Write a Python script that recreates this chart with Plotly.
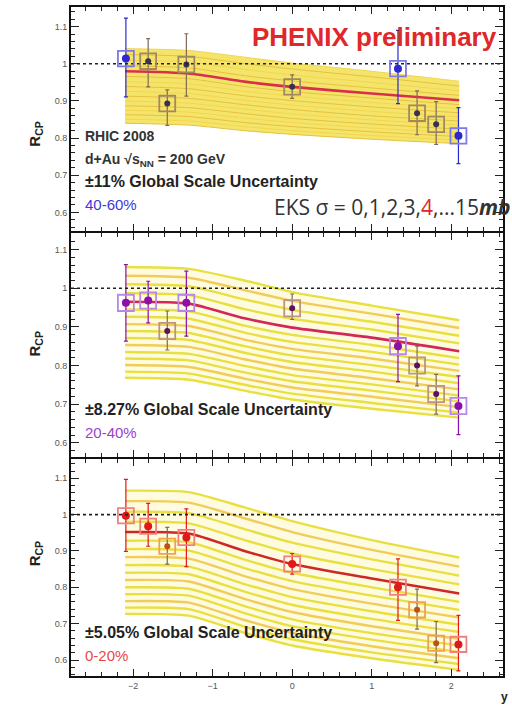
import plotly.graph_objects as go

# ---------------- data ----------------
rapidity = [-2.09, -1.81, -1.57, -1.33, 0.0, 1.33, 1.57, 1.81, 2.09]

# 40-60 % (top panel)
rcp_4060 = [1.014, 1.007, 0.893, 0.998, 0.938, 0.987, 0.867, 0.837, 0.806]
rcp_4060_hi = [1.123, 1.068, 0.930, 1.081, 0.970, 1.090, 0.927, 0.898, 0.882]
rcp_4060_lo = [0.911, 0.938, 0.834, 0.913, 0.907, 0.893, 0.809, 0.783, 0.731]

# 20-40 % (middle panel)
rcp_2040 = [0.962, 0.968, 0.889, 0.962, 0.948, 0.850, 0.800, 0.726, 0.695]
rcp_2040_hi = [1.061, 1.018, 0.941, 1.044, 0.985, 0.932, 0.850, 0.777, 0.773]
rcp_2040_lo = [0.863, 0.910, 0.840, 0.876, 0.919, 0.758, 0.747, 0.674, 0.621]

# 0-20 % (bottom panel)
rcp_0020 = [0.997, 0.968, 0.913, 0.937, 0.864, 0.800, 0.738, 0.646, 0.643]
rcp_0020_hi = [1.097, 1.031, 0.965, 1.016, 0.893, 0.878, 0.795, 0.706, 0.723]
rcp_0020_lo = [0.899, 0.913, 0.864, 0.857, 0.836, 0.709, 0.685, 0.593, 0.570]

# EKS curves, sigma = 0..15 mb, values at each rapidity knot (one list per knot)
eks_y = [-2.1, -1.3, -0.6, 0.0, 1.0, 2.1]
eks_sigma = list(range(16))
eks_red_sigma = 4

eks_4060 = [
    [1.041, 1.025, 1.010, 0.995, 0.980, 0.966, 0.952, 0.939, 0.926, 0.913, 0.900, 0.887, 0.875, 0.863, 0.851, 0.840],
    [1.036, 1.020, 1.005, 0.989, 0.974, 0.960, 0.946, 0.933, 0.920, 0.907, 0.894, 0.882, 0.870, 0.858, 0.846, 0.835],
    [1.018, 1.001, 0.985, 0.968, 0.952, 0.939, 0.926, 0.914, 0.902, 0.890, 0.878, 0.866, 0.854, 0.842, 0.831, 0.820],
    [1.002, 0.986, 0.970, 0.954, 0.938, 0.925, 0.913, 0.901, 0.889, 0.877, 0.865, 0.853, 0.842, 0.831, 0.820, 0.810],
    [0.980, 0.965, 0.950, 0.935, 0.920, 0.908, 0.896, 0.884, 0.872, 0.860, 0.849, 0.838, 0.827, 0.817, 0.807, 0.797],
    [0.953, 0.940, 0.927, 0.915, 0.902, 0.890, 0.879, 0.868, 0.857, 0.846, 0.835, 0.824, 0.814, 0.804, 0.794, 0.785],
]
eks_2040 = [
    [1.055, 1.032, 1.010, 0.987, 0.965, 0.945, 0.926, 0.907, 0.889, 0.871, 0.853, 0.835, 0.818, 0.801, 0.784, 0.768],
    [1.050, 1.027, 1.005, 0.982, 0.960, 0.940, 0.921, 0.902, 0.884, 0.866, 0.848, 0.830, 0.813, 0.796, 0.779, 0.763],
    [1.020, 0.995, 0.971, 0.946, 0.922, 0.903, 0.885, 0.867, 0.850, 0.833, 0.816, 0.799, 0.782, 0.766, 0.750, 0.735],
    [0.990, 0.967, 0.944, 0.921, 0.898, 0.879, 0.861, 0.843, 0.826, 0.809, 0.792, 0.775, 0.759, 0.743, 0.727, 0.712],
    [0.955, 0.934, 0.913, 0.893, 0.872, 0.853, 0.835, 0.818, 0.801, 0.784, 0.767, 0.751, 0.735, 0.719, 0.703, 0.688],
    [0.917, 0.897, 0.877, 0.857, 0.837, 0.819, 0.802, 0.786, 0.770, 0.754, 0.738, 0.722, 0.707, 0.692, 0.678, 0.665],
]
eks_0020 = [
    [1.066, 1.037, 1.008, 0.980, 0.952, 0.928, 0.905, 0.883, 0.861, 0.840, 0.820, 0.800, 0.781, 0.762, 0.744, 0.727],
    [1.062, 1.033, 1.004, 0.976, 0.948, 0.924, 0.901, 0.879, 0.857, 0.836, 0.816, 0.796, 0.777, 0.758, 0.740, 0.722],
    [1.020, 0.990, 0.960, 0.930, 0.900, 0.876, 0.853, 0.831, 0.809, 0.788, 0.768, 0.748, 0.729, 0.710, 0.692, 0.675],
    [0.982, 0.952, 0.923, 0.893, 0.864, 0.840, 0.817, 0.795, 0.773, 0.752, 0.732, 0.712, 0.693, 0.675, 0.657, 0.640],
    [0.930, 0.903, 0.877, 0.850, 0.824, 0.800, 0.777, 0.755, 0.734, 0.713, 0.693, 0.674, 0.656, 0.638, 0.621, 0.605],
    [0.882, 0.857, 0.832, 0.808, 0.783, 0.760, 0.738, 0.717, 0.697, 0.677, 0.658, 0.640, 0.622, 0.605, 0.589, 0.573],
]

y_tick_vals = [0.6, 0.7, 0.8, 0.9, 1.0, 1.1]
x_tick_vals = [-2, -1, 0, 1, 2]

# ---------------- style ----------------
panels = [
    dict(vals=rcp_4060, hi=rcp_4060_hi, lo=rcp_4060_lo, eks=eks_4060, primary=[0, 5, 8],
         color="#2a2ad0", box="#7a7ae8", sec_color="#3a3050", sec_box="#a08860",
         red="#d8304a", label="40-60%", label_color="#3a3ad8",
         glob="±11% Global Scale Uncertainty", dense=True,
         domain=[0.6647, 1.0], yrange=[0.549, 1.153], rcp_y=118),
    dict(vals=rcp_2040, hi=rcp_2040_hi, lo=rcp_2040_lo, eks=eks_2040, primary=[0, 1, 3, 5, 8],
         color="#8a10a8", box="#b888e8", sec_color="#601060", sec_box="#c09080",
         red="#d02858", label="20-40%", label_color="#9a40d0",
         glob="±8.27% Global Scale Uncertainty", dense=False,
         domain=[0.3279, 0.6617], yrange=[0.564, 1.142], rcp_y=343),
    dict(vals=rcp_0020, hi=rcp_0020_hi, lo=rcp_0020_lo, eks=eks_0020, primary=[0, 1, 3, 4, 5, 8],
         color="#e01818", box="#f08080", sec_color="#c05010", sec_box="#f0a050",
         red="#cc2828", label="0-20%", label_color="#e84848",
         glob="±5.05% Global Scale Uncertainty", dense=False,
         domain=[0.0, 0.3249], yrange=[0.556, 1.154], rcp_y=568),
]

X_RANGE = [-2.78, 2.65]
BOX_HW = 0.1
BOX_HH = 0.021
W, H = 512, 705
L_M, R_M, T_M, B_M = 71, 9, 5, 29
TEXT_X = 0.028

fig = go.Figure()
shapes = []
annotations = []


def ypix(p):
    return 1 - (p - T_M) / (H - T_M - B_M)


def xpix(p):
    return (p - L_M) / (W - L_M - R_M)


for i, p in enumerate(panels):
    ax = "" if i == 0 else str(i + 1)
    xr, yr = "x" + ax, "y" + ax
    cols = p["eks"]
    curves = [[col[s] for col in cols] for s in eks_sigma]
    spl = dict(shape="spline", smoothing=0.6)

    # band fill between sigma=15 and sigma=0
    fill_col = "#f5e46a" if p["dense"] else "#fffbe0"
    fig.add_trace(go.Scatter(x=eks_y, y=curves[-1], mode="lines", line=dict(width=0, **spl),
                             xaxis=xr, yaxis=yr, hoverinfo="skip", showlegend=False))
    fig.add_trace(go.Scatter(x=eks_y, y=curves[0], mode="lines", line=dict(width=0, **spl),
                             fill="tonexty", fillcolor=fill_col,
                             xaxis=xr, yaxis=yr, hoverinfo="skip", showlegend=False))
    for s in eks_sigma:
        if s == eks_red_sigma:
            continue
        if p["dense"]:
            col, w = ("#e6c040" if s % 2 else "#f0d650"), 1.0
        else:
            col, w = ("#f0cc5a" if s % 3 == 1 else "#e8e040"), 2.4
        fig.add_trace(go.Scatter(x=eks_y, y=curves[s], mode="lines",
                                 line=dict(color=col, width=w, **spl),
                                 xaxis=xr, yaxis=yr, hoverinfo="skip", showlegend=False))
    fig.add_trace(go.Scatter(x=eks_y, y=curves[eks_red_sigma], mode="lines",
                             line=dict(color=p["red"], width=2.6, **spl),
                             xaxis=xr, yaxis=yr, showlegend=False))

    # dotted unity line
    shapes.append(dict(type="line", xref=xr + " domain", yref=yr, x0=0, x1=1, y0=1, y1=1,
                       line=dict(color="#222", width=1.6, dash="dot"), layer="above"))

    # systematic boxes + points
    for grp in ("sec", "pri"):
        idx = [k for k in range(len(rapidity)) if (k in p["primary"]) == (grp == "pri")]
        xs = [rapidity[k] for k in idx]
        vs = [p["vals"][k] for k in idx]
        up = [p["hi"][k] - p["vals"][k] for k in idx]
        dn = [p["vals"][k] - p["lo"][k] for k in idx]
        mcol = p["color"] if grp == "pri" else p["sec_color"]
        bcol = p["box"] if grp == "pri" else p["sec_box"]
        ecol = p["color"] if grp == "pri" else "#806858"
        for xv, v in zip(xs, vs):
            shapes.append(dict(type="rect", xref=xr, yref=yr,
                               x0=xv - BOX_HW, x1=xv + BOX_HW, y0=v - BOX_HH, y1=v + BOX_HH,
                               line=dict(color=bcol, width=1.8), layer="above"))
        fig.add_trace(go.Scatter(
            x=xs, y=vs, mode="markers",
            marker=dict(color=mcol, size=8 if grp == "pri" else 6, symbol="circle"),
            error_y=dict(type="data", array=up, arrayminus=dn, color=ecol, thickness=1.2, width=2),
            xaxis=xr, yaxis=yr, showlegend=False))

    # axes
    axis_common = dict(showline=True, linewidth=2, linecolor="#111", mirror="allticks",
                       ticks="inside", tickcolor="#222", showgrid=False, zeroline=False,
                       tickfont=dict(family="Liberation Sans", size=9, color="#555"))
    fig.layout["xaxis" + ax] = dict(
        axis_common, domain=[0, 1], range=X_RANGE, anchor=yr,
        tickvals=x_tick_vals, ticklen=7,
        minor=dict(dtick=0.2, tick0=0, ticklen=4, ticks="inside", tickcolor="#222"),
        showticklabels=(i == 2))
    fig.layout["yaxis" + ax] = dict(
        axis_common, domain=p["domain"], range=p["yrange"], anchor=xr,
        tickvals=y_tick_vals, ticktext=[f"{v:g}" for v in y_tick_vals], ticklen=8,
        minor=dict(dtick=0.02, tick0=0, ticklen=4, ticks="inside", tickcolor="#222"))

    # texts
    annotations.append(dict(text="<b>R<sub>CP</sub></b>", xref="paper", yref="paper",
                            x=xpix(24), y=ypix(p["rcp_y"]), textangle=-90, showarrow=False,
                            font=dict(family="Liberation Sans", size=15, color="#222")))
    label_y = {0: 203, 1: 432, 2: 655}[i]
    glob_y = {0: 180, 1: 409, 2: 632}[i]
    annotations.append(dict(text="<b>" + p["glob"] + "</b>", xref="paper", yref="paper",
                            x=TEXT_X, y=ypix(glob_y), xanchor="left", yanchor="middle", showarrow=False,
                            font=dict(family="Liberation Sans", size=16, color="#222")))
    annotations.append(dict(text=p["label"], xref="paper", yref="paper",
                            x=TEXT_X, y=ypix(label_y), xanchor="left", yanchor="middle", showarrow=False,
                            font=dict(family="Liberation Sans", size=15, color=p["label_color"])))

annotations += [
    dict(text="<b>PHENIX preliminary</b>", xref="paper", yref="paper", x=xpix(499), y=ypix(35),
         xanchor="right", yanchor="middle", showarrow=False,
         font=dict(family="Liberation Sans", size=26, color="#e02828")),
    dict(text="<b>RHIC 2008</b>", xref="paper", yref="paper", x=TEXT_X, y=ypix(134),
         xanchor="left", yanchor="middle", showarrow=False,
         font=dict(family="Liberation Sans", size=14, color="#333")),
    dict(text="<b>d+Au √s<sub>NN</sub> = 200 GeV</b>", xref="paper", yref="paper", x=TEXT_X, y=ypix(158),
         xanchor="left", yanchor="middle", showarrow=False,
         font=dict(family="Liberation Sans", size=14, color="#333")),
    dict(text="EKS σ = 0,1,2,3,<span style='color:#e02828'>4</span>,...15<b><i>mb</i></b>",
         xref="paper", yref="paper", x=xpix(272), y=ypix(206), xanchor="left", yanchor="middle",
         showarrow=False, font=dict(family="Open Sans", size=21, color="#333")),
    dict(text="<b>y</b>", xref="paper", yref="paper", x=xpix(505), y=ypix(697),
         xanchor="center", yanchor="middle", showarrow=False,
         font=dict(family="Liberation Sans", size=12, color="#222")),
]

fig.update_layout(
    width=W, height=H, margin=dict(l=L_M, r=R_M, t=T_M, b=B_M),
    paper_bgcolor="white", plot_bgcolor="white",
    shapes=shapes, annotations=annotations, showlegend=False,
)

fig.write_html("out.html", config={"displayModeBar": False},
               post_script="document.body.style.margin='0px';document.body.style.overflow='hidden';")
